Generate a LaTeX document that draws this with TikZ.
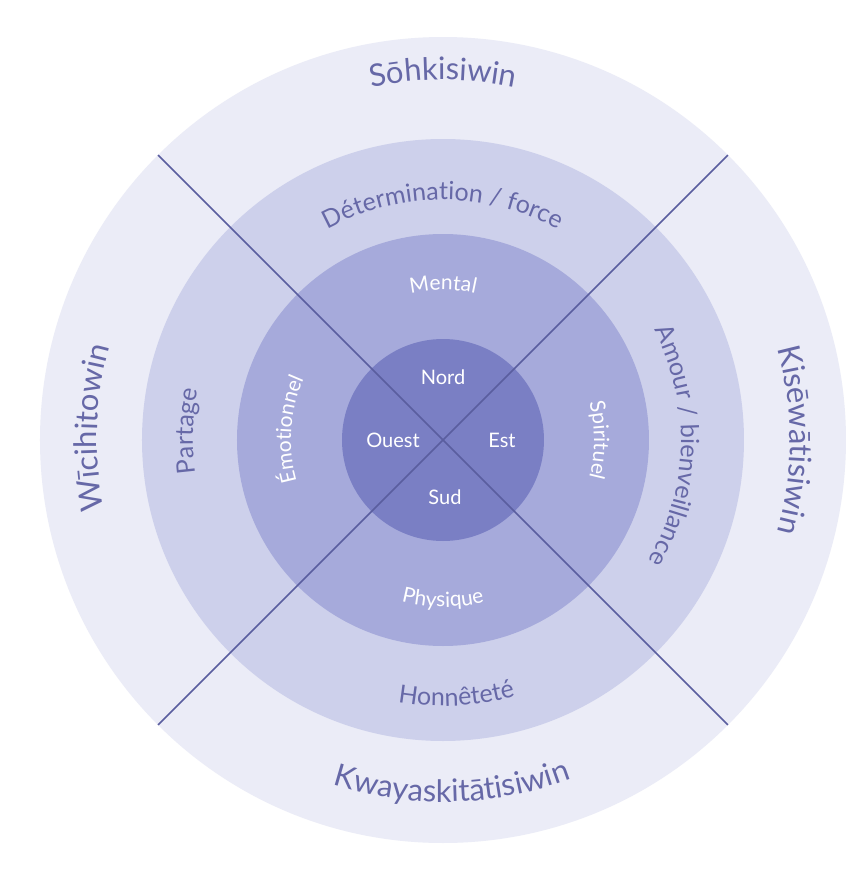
\documentclass[tikz,border=0pt]{standalone}
\usepackage{fontspec}
\setmainfont{Lato}
\usetikzlibrary{decorations.text}

\definecolor{ringA}{HTML}{EBECF7}
\definecolor{ringB}{HTML}{CDD0EB}
\definecolor{ringC}{HTML}{A6AADB}
\definecolor{ringD}{HTML}{7A7FC4}
\definecolor{spoke}{HTML}{5A5E9F}
\definecolor{lbl}{HTML}{6668A7}

% label fonts, one per ring
\newcommand\outerlbl{\fontsize{15.5}{18}\selectfont\color{lbl}}
\newcommand\midlbl{\fontsize{12.5}{15}\selectfont\color{lbl}}
\newcommand\innerlbl{\fontsize{10.5}{12}\selectfont\color{white}}

% text bent on an arc: font, radius, start angle, end angle, text
\newcommand\ringlabel[5]{%
  \path[decorate, decoration={text along path, text align=center, text={|#1|#5}}]
    (#3:#2) arc[start angle=#3, end angle=#4, radius=#2];}

\tikzset{ring/.style={draw=none, fill=#1}}
\tikzset{spokeline/.style={draw=spoke, line width=0.75pt}}
\tikzset{dirlbl/.style={font=\fontsize{10}{12}\selectfont, text=white, inner sep=1pt}}

\begin{document}
\begin{tikzpicture}[x=0.5pt, y=0.5pt]
  \path[use as bounding box, fill=white] (-443,-429) rectangle (424,440);
  \coordinate (c) at (0,0);

  % rings, outside in
  \path[ring=ringA] (c) circle[radius=403];
  \path[ring=ringB] (c) circle[radius=301];
  \path[ring=ringC] (c) circle[radius=206];
  \path[ring=ringD] (c) circle[radius=101];

  % diagonals
  \coordinate (ne) at (45:403);
  \coordinate (nw) at (135:403);
  \coordinate (sw) at (225:403);
  \coordinate (se) at (315:403);
  \draw[spokeline] (nw) -- (se);
  \draw[spokeline] (ne) -- (sw);

  % outer ring
  \ringlabel{\outerlbl}{360}{150}{30}{Sōhkisiwin}
  \ringlabel{\outerlbl}{347}{60}{-60}{Kisēwātisiwin}
  \ringlabel{\outerlbl}{362}{211.5}{331.5}{Kwayaskitātisiwin}
  \ringlabel{\outerlbl}{346}{238}{118}{Wīcihitowin}

  % second ring
  \ringlabel{\midlbl}{240}{150}{30}{Détermination / force}
  \ringlabel{\midlbl}{238}{60}{-63}{Amour / bienveillance}
  \ringlabel{\midlbl}{266}{223}{323}{Honnêteté}
  \ringlabel{\midlbl}{250}{238}{118}{Partage}

  % third ring
  \ringlabel{\innerlbl}{150}{150}{30}{Mental}
  \ringlabel{\innerlbl}{151}{60}{-60}{Spirituel}
  \ringlabel{\innerlbl}{167}{210}{330}{Physique}
  \ringlabel{\innerlbl}{152}{236}{116}{Émotionnel}

  % centre
  \node[dirlbl] (nord) at (0,63) {Nord};
  \node[dirlbl] (ouest) at (-50,0) {Ouest};
  \node[dirlbl] (est) at (59,0) {Est};
  \node[dirlbl] (sud) at (2,-57) {Sud};
\end{tikzpicture}
\end{document}
